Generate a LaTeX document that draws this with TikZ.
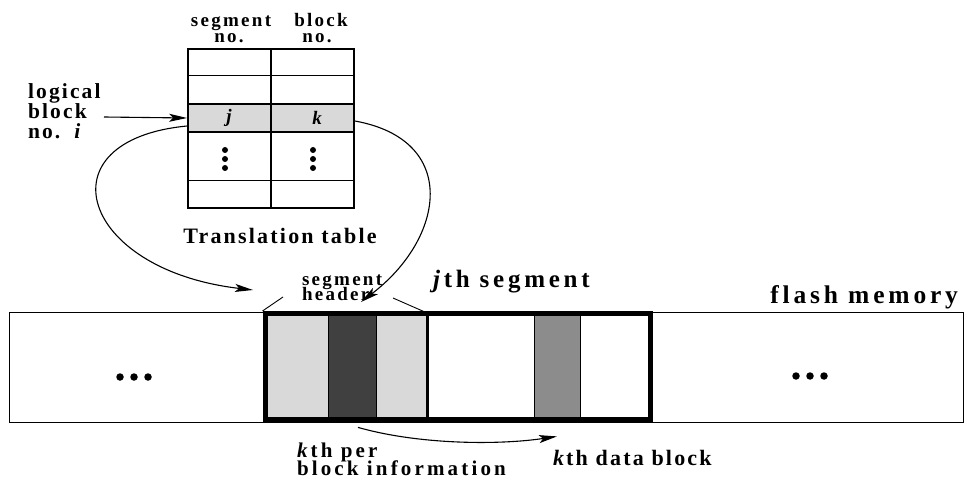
\documentclass[tikz,border=0pt]{standalone}
\usepackage{fontspec}
\setmainfont{Liberation Serif}
\newfontfamily\fsC[LetterSpace=10]{Liberation Serif}
\newfontfamily\fsE[LetterSpace=12]{Liberation Serif}
\newfontfamily\fsD[LetterSpace=15]{Liberation Serif}
\usetikzlibrary{arrows.meta}
\definecolor{lgray}{HTML}{D9D9D9}
\definecolor{dgray}{HTML}{404040}
\definecolor{mgray}{HTML}{8C8C8C}
\begin{document}
\begin{tikzpicture}[x=1pt,y=-1pt,
  txt/.style={inner sep=0pt, outer sep=0pt},
  hdr/.style={txt, font=\fsE\bfseries\fontsize{19}{15}\selectfont},
  lgl/.style={txt, font=\fsC\bfseries\fontsize{21.5}{18}\selectfont},
  big/.style={txt, font=\fsC\bfseries\fontsize{22}{22}\selectfont},
  huge/.style={txt, font=\fsD\bfseries\fontsize{25}{25}\selectfont},
  per/.style={txt, font=\fsD\bfseries\fontsize{21}{17}\selectfont},
  cellv/.style={txt, font=\bfseries\itshape\fontsize{19}{18}\selectfont},
  arr/.style={line width=1.1pt, -{Stealth[length=18pt,width=8pt,inset=4pt]}},
  tcell/.style={draw, line width=1.8pt, fill=lgray, minimum width=83pt, minimum height=28pt, inner sep=0pt},
  scell/.style={draw, line width=0.8pt, minimum height=106pt, inner sep=0pt},
  dotc/.style={circle, fill, inner sep=0pt, minimum size=7.5pt},
  vdot/.style={circle, fill, inner sep=0pt, minimum size=6pt}
]
\useasboundingbox (0,0) rectangle (966,481);

% ---- translation table ----
\node[hdr, anchor=base] (hs1) at (231,27) {segment};
\node[hdr, anchor=base] (hs2) at (229,43) {no.};
\node[hdr, anchor=base] (hb1) at (321,27) {block};
\node[hdr, anchor=base] (hb2) at (317,43) {no.};

\node[draw, line width=1.2pt, minimum width=166pt, minimum height=159pt, inner sep=0pt] (tab) at (271,128.5) {};
\draw[line width=1pt] (188,76) -- (354,76);
\draw[line width=1pt] (188,181) -- (354,181);
\node[tcell] (jcell) at (229.5,118) {};
\node[tcell] (kcell) at (312.5,118) {};
\draw[line width=2pt] (271,49) -- (271,208);
\node[cellv] (jv) at (229,118) {j};
\node[cellv] (kv) at (317,118) {k};
\foreach \yy in {150,159,168} {
  \node[vdot] at (225,\yy) {};
  \node[vdot] at (313,\yy) {};
}
\node[big, anchor=base] (tt) at (280,243) {Translation table};

% ---- logical block label ----
\node[lgl, anchor=base west] (lg1) at (28,99) {logical};
\node[lgl, anchor=base west] (lg2) at (28,119) {block};
\node[lgl, anchor=base west] (lg3) at (28,139) {no.\hspace{14pt}\textit{i}};
\coordinate (lgstart) at (104,117);
\draw[arr] (lgstart) -- (jcell.west);

% ---- flash memory ----
\node[draw, line width=0.9pt, minimum width=954pt, minimum height=110pt, inner sep=0pt] (flash) at (486,367) {};
\node[scell, fill=lgray, minimum width=63pt] (c1) at (296.5,366.5) {};
\node[scell, fill=dgray, minimum width=48pt] (c2) at (352,366.5) {};
\node[scell, fill=lgray, minimum width=51pt] (c3) at (401.5,366.5) {};
\node[scell, fill=white, minimum width=107pt] (c4) at (480.5,366.5) {};
\node[scell, fill=mgray, minimum width=46pt] (c5) at (557,366.5) {};
\node[scell, fill=white, minimum width=70pt] (c6) at (615,366.5) {};
\node[draw, line width=5pt, minimum width=385pt, minimum height=106pt, inner sep=0pt] (seg) at (457.5,366.5) {};
\draw[line width=3pt] (c3.north east) -- (c3.south east);

\foreach \xx in {120,134,148} \node[dotc] at (\xx,377) {};
\foreach \xx in {796,810,824} \node[dotc] at (\xx,376) {};

\node[huge, anchor=base west] (jseg) at (433,287) {\textit{j}th segment};
\node[huge, anchor=base east, font=\fsD\bfseries\fontsize{25.5}{25}\selectfont] (fm) at (958,303) {flash memory};

% segment header
\node[hdr, anchor=base west] (sh1) at (302,285) {segment};
\node[hdr, anchor=base west] (sh2) at (302,300) {header};
\coordinate (shl) at (283,297);
\coordinate (shr) at (393,298);
\draw[line width=0.9pt] (seg.north west) -- (shl);
\draw[line width=0.9pt] (c3.north east) -- (shr);

% curves from table
\coordinate (e1) at (253,290);
\coordinate (e2) at (361,302);
\draw[arr] ([yshift=-8pt]jcell.west) .. controls (40,140) and (80,270) .. (e1);
\draw[arr] ([yshift=-3pt]kcell.east) .. controls (460,140) and (445,238) .. (e2);

% bottom labels
\node[per, anchor=base west] (kp1) at (297,457) {\textit{k}th per};
\node[per, anchor=base west] (kp2) at (297,475) {block information};
\node[big, anchor=base west] (kd) at (553,465) {\textit{k}th data block};
\draw[arr] ([xshift=6pt,yshift=-7.5pt]c2.south) .. controls (420,445) and (500,445) .. ([yshift=-16.5pt]c5.south);
\end{tikzpicture}
\end{document}
